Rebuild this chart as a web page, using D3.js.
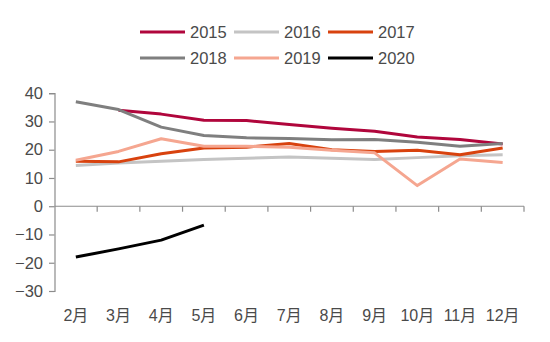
<!DOCTYPE html>
<html>
<head>
<meta charset="utf-8">
<script src="https://cdn.jsdelivr.net/npm/d3@7"></script>
<style>
  html, body { margin: 0; padding: 0; background: #fff; }
  svg { display: block; font-family: "Liberation Sans", Arial, sans-serif; }
</style>
</head>
<body>
<svg id="chart" width="550" height="342"></svg>
<script>
// Month categories (Jan and Feb are reported together)
const months = ["2月", "3月", "4月", "5月", "6月", "7月", "8月", "9月", "10月", "11月", "12月"];
const yTicks = [-30, -20, -10, 0, 10, 20, 30, 40];

// Year-over-year values per year; null where no figure exists
const v2015 = [null, 34.0, 32.6, 30.4, 30.3, 28.9, 27.6, 26.5, 24.5, 23.6, 22.0];
const v2016 = [14.4, 15.3, 15.9, 16.5, 17.0, 17.4, 17.0, 16.5, 17.2, 17.9, 18.2];
const v2017 = [15.9, 15.7, 18.6, 20.6, 20.9, 22.2, 20.0, 19.4, 19.8, 18.2, 20.6];
const v2018 = [37.0, 34.2, 28.0, 25.0, 24.2, 24.0, 23.5, 23.6, 22.6, 21.2, 22.2];
const v2019 = [16.3, 19.4, 23.9, 21.2, 21.2, 20.9, 19.8, 18.9, 7.3, 16.7, 15.5];
const v2020 = [-18.0, -15.1, -12.0, -6.7, null, null, null, null, null, null, null];

const seriesNames = ["2015", "2016", "2017", "2018", "2019", "2020"];
const seriesValues = [v2015, v2016, v2017, v2018, v2019, v2020];
const seriesColors = ["#b0063c", "#c4c4c4", "#d8420e", "#7f7f7f", "#f5a690", "#000000"];

const svg = d3.select("#chart");
const textColor = "#4a4a4a";
const axisColor = "#8c8c8c";

const x = d3.scaleBand().domain(months).range([54.5, 524]).paddingInner(0).paddingOuter(0);
const y = d3.scaleLinear().domain([-30, 40]).range([291, 93.2]);

// Y axis
const yAxis = svg.append("g")
  .attr("transform", "translate(54.5,0)")
  .call(d3.axisLeft(y).tickValues(yTicks).tickSize(5.5).tickPadding(6).tickFormat(d3.format("d")));
yAxis.select(".domain").attr("stroke", axisColor).attr("stroke-width", 1.2);
yAxis.selectAll(".tick line").attr("stroke", axisColor).attr("stroke-width", 1.2);
yAxis.selectAll(".tick text")
  .attr("fill", textColor).attr("font-size", 16.5)
  .attr("font-family", "'Liberation Sans', Arial, sans-serif");

// X axis along zero line, ticks at category boundaries
const xAxisG = svg.append("g").attr("transform", `translate(0,${y(0)})`);
xAxisG.append("line")
  .attr("x1", x.range()[0]).attr("x2", x.range()[1])
  .attr("stroke", axisColor).attr("stroke-width", 1.2);
const bounds = months.map(m => x(m) + x.bandwidth());
xAxisG.selectAll("line.tk").data(bounds).join("line")
  .attr("class", "tk")
  .attr("x1", d => d).attr("x2", d => d)
  .attr("y1", 0).attr("y2", 5.5)
  .attr("stroke", axisColor).attr("stroke-width", 1.2);

// Month labels at the bottom
svg.append("g").selectAll("text").data(months).join("text")
  .attr("x", d => x(d) + x.bandwidth() / 2)
  .attr("y", 321)
  .attr("text-anchor", "middle")
  .attr("fill", textColor)
  .attr("font-size", 16)
  .attr("font-family", "'Liberation Sans', 'Noto Sans CJK SC', sans-serif")
  .text(d => d);

// Lines
const line = d3.line()
  .defined(d => d.v !== null)
  .x(d => x(d.m) + x.bandwidth() / 2)
  .y(d => y(d.v));

seriesValues.forEach((vals, i) => {
  svg.append("path")
    .datum(months.map((m, j) => ({ m, v: vals[j] })))
    .attr("fill", "none")
    .attr("stroke", seriesColors[i])
    .attr("stroke-width", 3)
    .attr("stroke-linejoin", "round")
    .attr("d", line);
});

// Legend: two rows of three
const legend = svg.append("g");
seriesNames.forEach((name, i) => {
  const col = i % 3, row = Math.floor(i / 3);
  const lx = 140 + col * 94, ly = 32 + row * 26;
  legend.append("line")
    .attr("x1", lx).attr("x2", lx + 45)
    .attr("y1", ly).attr("y2", ly)
    .attr("stroke", seriesColors[i]).attr("stroke-width", 3);
  legend.append("text")
    .attr("x", lx + 50).attr("y", ly + 5.8)
    .attr("fill", textColor).attr("font-size", 16.5)
    .text(name);
});
</script>
</body>
</html>
